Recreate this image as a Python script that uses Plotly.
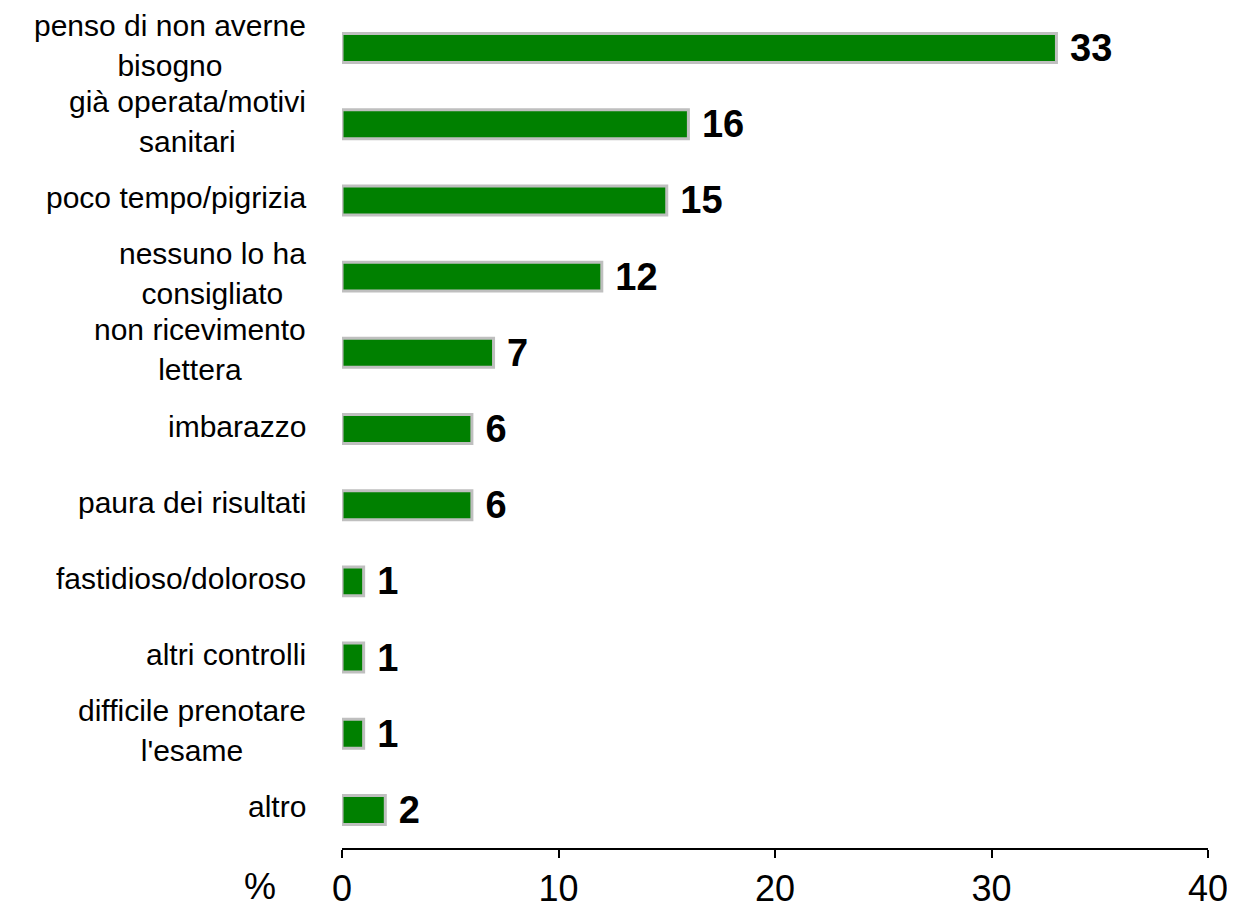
import plotly.graph_objects as go

GREEN = "#008000"
OUTLINE = "#BFBFBF"
FONT = "Arial, Liberation Sans, sans-serif"

categories = [
    "penso di non averne<br>bisogno",
    "già operata/motivi<br>sanitari",
    "poco tempo/pigrizia",
    "nessuno lo ha<br>consigliato",
    "non ricevimento<br>lettera",
    "imbarazzo",
    "paura dei risultati",
    "fastidioso/doloroso",
    "altri controlli",
    "difficile prenotare<br>l'esame",
    "altro",
]
values = [33, 16, 15, 12, 7, 6, 6, 1, 1, 1, 2]
x_ticks = [0, 10, 20, 30, 40]

fig = go.Figure(go.Bar(
    x=values,
    y=categories,
    orientation="h",
    marker=dict(color=GREEN, line=dict(color=OUTLINE, width=3)),
    text=values,
    texttemplate="\u00a0%{text}",
    textposition="outside",
    constraintext="none",
    cliponaxis=False,
    textfont=dict(family=FONT, size=38, color="black", weight="bold"),
))

# category labels as annotations so two-line labels are centred and widely spaced
for cat in categories:
    lines = cat.split("<br>")
    txt = "<br>".join(f"<span style='font-size:30px'>{ln}</span>" for ln in lines)
    fig.add_annotation(
        text=txt,
        xref="paper", x=0, xshift=-34, xanchor="right",
        yref="y", y=cat, yanchor="middle", yshift=3,
        align="center", showarrow=False,
        font=dict(family=FONT, size=31, color="black"),
    )

fig.add_annotation(
    text="%", xref="paper", x=0, xshift=-82, xanchor="center",
    yref="paper", y=0, yshift=-38, yanchor="middle",
    showarrow=False, font=dict(family=FONT, size=36, color="black"),
)

# page body adds an 8px offset, so margins are shifted to compensate
fig.update_layout(
    width=1235, height=915,
    paper_bgcolor="white", plot_bgcolor="white",
    margin=dict(l=334, r=35, t=2, b=75),
    bargap=0.62,
    showlegend=False,
    font=dict(family=FONT, color="black"),
    xaxis=dict(
        range=[0, 40], tickvals=x_ticks, showgrid=False, zeroline=False,
        showline=True, linecolor="black", linewidth=2,
        ticks="outside", ticklen=8, tickwidth=2, tickcolor="black",
        tickfont=dict(family=FONT, size=36, color="black"),
    ),
    yaxis=dict(
        autorange="reversed", showticklabels=False, showgrid=False,
        zeroline=False, showline=False, ticks="",
    ),
)

fig.write_html("out.html")
